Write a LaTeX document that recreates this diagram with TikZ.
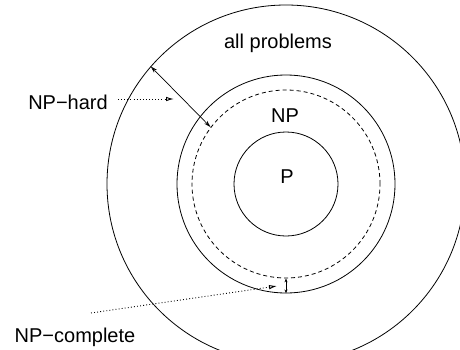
\documentclass[tikz,border=0pt]{standalone}
\usepackage{fontspec}
\setmainfont{Liberation Sans}
\usetikzlibrary{arrows.meta}
\begin{document}
\begin{tikzpicture}[x=1pt,y=1pt,
  ring/.style={draw, circle, inner sep=0pt, line width=0.8pt},
  lbl/.style={font=\fontsize{20}{24}\selectfont, inner sep=0pt},
  dimarrow/.style={line width=0.7pt, {Stealth[open,length=7pt,width=4pt]}-{Stealth[open,length=7pt,width=4pt]}},
  ptr/.style={line width=0.9pt, dash pattern=on 0.9pt off 2.2pt, -{Latex[open,length=8pt,width=4.5pt]}}]
\useasboundingbox (0,0) rectangle (460,349);
\clip (0,0) rectangle (460,349);
\coordinate (c) at (286,165);
\node[ring, minimum size=358pt] (all) at (c) {};
\node[ring, minimum size=218pt] (np) at (c) {};
\node[ring, dashed, dash pattern=on 4pt off 3pt, minimum size=188pt] (npc) at (c) {};
\node[ring, minimum size=104pt] (p) at (c) {};
\node[lbl] (tall) at (278,306) {all problems};
\node[lbl] (tnp) at (285,233) {NP};
\node[lbl] (tp) at (287,172) {P};
\node[lbl] (thard) at (68,247) {NP−hard};
\node[lbl] (tcomp) at (75,12) {NP−complete};
\draw[dimarrow] (all.139.5) -- (npc.143);
\draw[line width=0.7pt, {Stealth[length=4pt,width=3pt]}-{Stealth[length=4pt,width=3pt]}] (npc.270) -- (np.270);
\coordinate (h1) at (118,250);
\coordinate (h2) at (174,250);
\coordinate (c1) at (91,36);
\coordinate (c2) at (277,63);
\draw[ptr] (h1) -- (h2);
\draw[ptr] (c1) -- (c2);
\end{tikzpicture}
\end{document}
